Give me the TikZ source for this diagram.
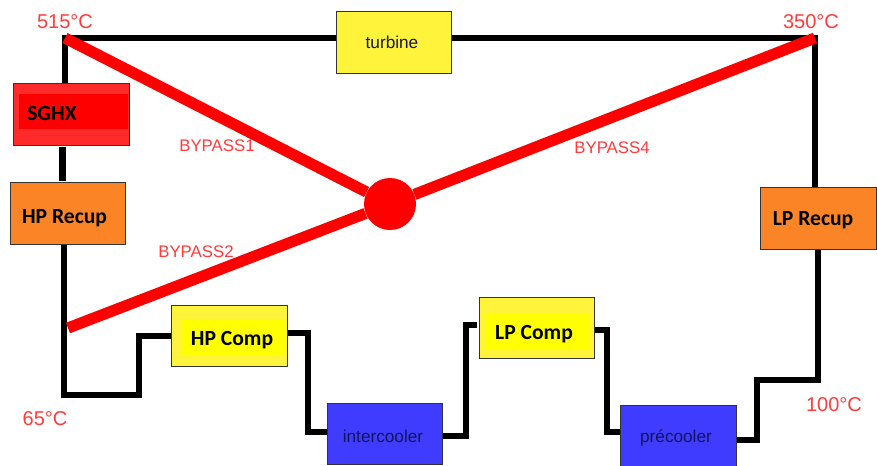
\documentclass[tikz,border=0pt]{standalone}
\usepackage{fontspec}
\setmainfont{Liberation Sans}
\newfontfamily\carl{Carlito}
\definecolor{yellowbox}{HTML}{FFF33B}
\definecolor{bluebox}{HTML}{3F3CFF}
\definecolor{orangebox}{HTML}{FB8526}
\definecolor{redbox}{HTML}{FF2A2A}
\definecolor{textblue}{HTML}{14145A}
\definecolor{redtext}{HTML}{FF3B3B}
\definecolor{pureyellow}{HTML}{FFFF00}
\definecolor{purered}{HTML}{FF0000}
\tikzset{
  x=0.75pt,y=-0.75pt,
  pipe/.style={line width=4.6pt,draw=black,line join=miter},
  bypass/.style={line width=8.4pt,draw=purered,line cap=butt},
  unit/.style={draw=black!80,line width=0.9pt,inner sep=0,minimum width=86.5pt,minimum height=46pt},
  yel/.style={unit,fill=yellowbox},
  blu/.style={unit,fill=bluebox},
  org/.style={unit,fill=orangebox},
  rdb/.style={unit,fill=redbox},
  inner/.style={inner sep=0,draw=none},
  boldlab/.style={font=\carl\bfseries\fontsize{16.2pt}{18pt}\selectfont,text=black},
  thinlab/.style={font=\fontsize{12.9pt}{14pt}\selectfont,text=textblue},
  temp/.style={font=\fontsize{15pt}{17pt}\selectfont,text=redtext},
  byp/.style={font=\fontsize{12.6pt}{14pt}\selectfont,text=redtext},
}
\begin{document}
\begin{tikzpicture}
\useasboundingbox (0,0) rectangle (877,465);
% units
\node[rdb] (sghx) at (71.5,114.5) {};
\node[org] (hprec) at (68,213.5) {};
\node[yel] (turb) at (394,42.5) {};
\node[org] (lprec) at (818.5,218.5) {};
\node[yel] (hpc) at (229.5,336) {};
\node[yel] (lpc) at (537,328) {};
\node[blu] (ic) at (385,434) {};
\node[blu] (pc) at (678.5,436) {};
% highlights
\node[inner,fill=purered,minimum width=82pt,minimum height=26pt] (sghxin) at (73.5,111.5) {};
\node[inner,fill=pureyellow,minimum width=78pt,minimum height=27pt] (hpcin) at (233,337) {};
\node[inner,fill=pureyellow,minimum width=78pt,minimum height=27pt] (lpcin) at (537,331) {};
% labels
\node[boldlab] (sghxt) at (52,113) {SGHX};
\node[boldlab] (hprect) at (64.5,218) {HP Recup};
\node[boldlab] (lprect) at (813,220) {LP Recup};
\node[boldlab] (hpct) at (232,340) {HP Comp};
\node[boldlab] (lpct) at (534,334) {LP Comp};
\node[thinlab] (turbt) at (392,42) {turbine};
\node[thinlab] (ict) at (383,436) {intercooler};
\node[thinlab] (pct) at (676,438) {précooler};
% junction corners
\coordinate (tl) at (65,38);
\coordinate (tr) at (815,38);
\coordinate (bl) at (64,395);
\coordinate (b1) at (139,395);
\coordinate (b2) at (139,336);
\coordinate (hpo) at (308,333);
\coordinate (hpod) at (308,432);
\coordinate (ico) at (466,436);
\coordinate (icu) at (466,325);
\coordinate (lpo) at (607,330);
\coordinate (lpod) at (607,432);
\coordinate (pco) at (757,440);
\coordinate (pcu) at (757,380);
\coordinate (rb) at (818,380);
% pipes
\draw[pipe] (sghx.north -| tl) -- (tl) -- (turb.west |- tl);
\draw[pipe] (turb.east |- tr) -- (tr) -- (lprec.north -| tr);
\draw[pipe] (62.5,147) -- (62.5,181);
\draw[pipe] (hprec.south -| bl) -- (bl) -- (b1) -- (b2) -- (hpc.west |- b2);
\draw[pipe] (hpc.east |- hpo) -- (hpo) -- (hpod) -- (ic.west |- hpod);
\draw[pipe] (ic.east |- ico) -- (ico) -- (icu) -- (477,325);
\draw[pipe] (lpc.east |- lpo) -- (lpo) -- (lpod) -- (pc.west |- lpod);
\draw[pipe] (pc.east |- pco) -- (pco) -- (pcu) -- (rb) -- (lprec.south -| rb);
% bypass
\node[circle,fill=purered,inner sep=0,minimum size=39pt] (hub) at (390,204) {};
\draw[bypass] (tl) -- (hub);
\draw[bypass] (tr) -- (hub);
\draw[bypass] (68,328) -- (hub);
% text labels
\node[temp] (t515) at (65,22) {515°C};
\node[temp] (t350) at (811,22) {350°C};
\node[temp] (t65) at (45,419) {65°C};
\node[temp] (t100) at (834,405) {100°C};
\node[byp] (b1l) at (217,146) {BYPASS1};
\node[byp] (b2l) at (196,252) {BYPASS2};
\node[byp] (b4l) at (612,148) {BYPASS4};
\end{tikzpicture}
\end{document}
